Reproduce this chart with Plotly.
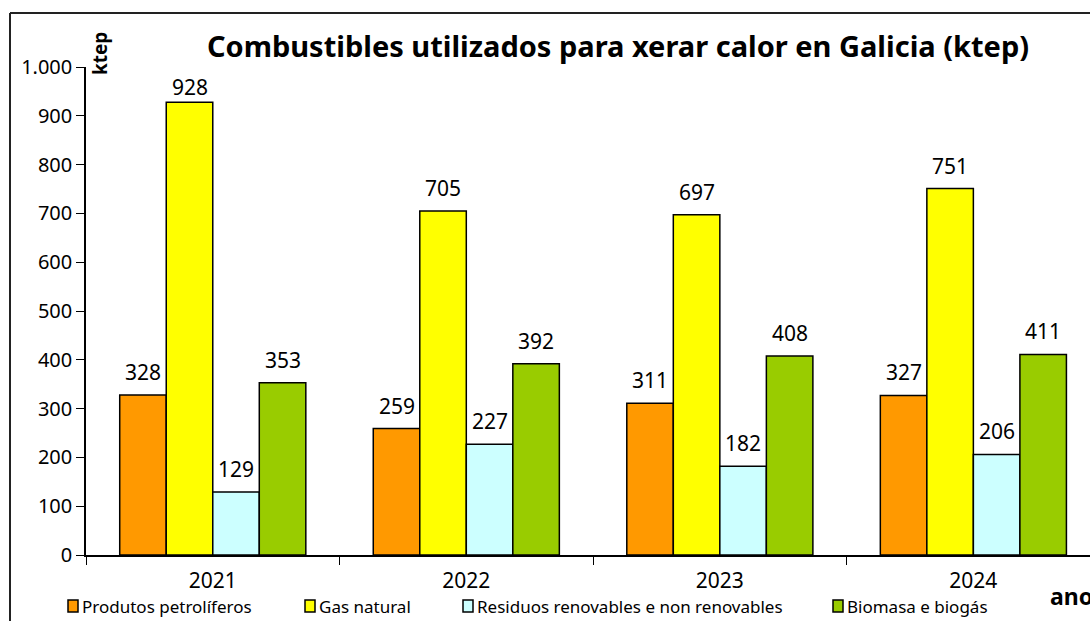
import plotly.graph_objects as go

years = ["2021", "2022", "2023", "2024"]
series_names = ["Produtos petrolíferos", "Gas natural",
                "Residuos renovables e non renovables", "Biomasa e biogás"]
petroliferos = [328, 259, 311, 327]
gas_natural = [928, 705, 697, 751]
residuos = [129, 227, 182, 206]
biomasa = [353, 392, 408, 411]
colors = ["#FF9900", "#FFFF00", "#CCFFFF", "#99CC00"]
y_ticks = [0, 100, 200, 300, 400, 500, 600, 700, 800, 900, 1000]
y_ticktext = ["0", "100", "200", "300", "400", "500", "600", "700", "800", "900", "1.000"]

FONT = "Noto Sans"
W, H = 1090, 621
L, R, T, B = 86, 0, 67, 66
pw, ph = W - L - R, H - T - B
BARGAP = 0.266
cat_px = pw / 3.96
bar_w = cat_px * (1 - BARGAP) / 4

def px(x):
    return (x - L) / pw

def py(y):
    return (H - B - y) / ph

all_series = [petroliferos, gas_natural, residuos, biomasa]
fig = go.Figure()
annotations = []
for i, (name, vals, col) in enumerate(zip(series_names, all_series, colors)):
    fig.add_trace(go.Bar(
        x=years, y=vals, name=name, marker=dict(color=col, line=dict(color="black", width=1.5)),
        showlegend=False,
    ))
    for j, v in enumerate(vals):
        bartop = (H - B) - v * ph / 1000
        ys = min(23, bartop - (T + 20))
        annotations.append(dict(x=j, y=v, xref="x", yref="y", text=str(v), showarrow=False,
                                xshift=(i - 1.5) * bar_w, yshift=ys, yanchor="middle",
                                font=dict(family=FONT, size=21, color="black")))

fig.update_layout(
    width=W, height=H, margin=dict(l=L, r=R, t=T, b=B),
    paper_bgcolor="white", plot_bgcolor="white",
    barmode="group", bargap=BARGAP, bargroupgap=0,
    font=dict(family=FONT, size=20, color="black"),
    xaxis=dict(type="category", range=[-0.5, 3.46], showline=True, linecolor="black", linewidth=1.5,
               ticks="outside", tickson="boundaries", ticklen=8, tickcolor="black",
               tickfont=dict(size=21), showgrid=False, ticklabelstandoff=6),
    yaxis=dict(range=[0, 1000], tickvals=y_ticks, ticktext=y_ticktext, showline=True,
               linecolor="black", linewidth=1.5, ticks="outside", ticklen=8, tickcolor="black",
               showgrid=False, zeroline=False, tickfont=dict(size=20)),
    title=dict(text="<b>Combustibles utilizados para xerar calor en Galicia (ktep)</b>",
               xref="container", x=618 / W, xanchor="center", y=1 - 47 / H, yanchor="middle",
               font=dict(family=FONT, size=29, color="black")),
)

shapes = [
    dict(type="line", xref="paper", yref="paper", x0=px(10), x1=px(1095), y0=py(13), y1=py(13),
         line=dict(color="#222", width=2)),
    dict(type="line", xref="paper", yref="paper", x0=px(10), x1=px(10), y0=py(13), y1=py(630),
         line=dict(color="#222", width=2)),
]
annotations += [
    dict(text="<b>ktep</b>", xref="paper", yref="paper", x=px(100), y=py(54), textangle=-90,
         showarrow=False, font=dict(family=FONT, size=19, color="black"), xanchor="center", yanchor="middle"),
    dict(text="<b>ano</b>", xref="paper", yref="paper", x=px(1048), y=py(596), xanchor="left",
         yanchor="middle", showarrow=False, font=dict(family=FONT, size=23, color="black")),
]
legend_x = [68, 305, 463, 833]
for lx, name, col in zip(legend_x, series_names, colors):
    shapes.append(dict(type="rect", xref="paper", yref="paper", x0=px(lx), x1=px(lx + 10),
                       y0=py(612), y1=py(600), fillcolor=col, line=dict(color="black", width=1.5)))
    annotations.append(dict(text=name, xref="paper", yref="paper", x=px(lx + 12), y=py(606),
                            xanchor="left", yanchor="middle", showarrow=False,
                            font=dict(family=FONT, size=17, color="black")))
fig.update_layout(shapes=shapes, annotations=annotations)

fig.write_html("out.html", config={"displayModeBar": False},
               post_script="document.body.style.margin='0';document.body.style.overflow='hidden';")
